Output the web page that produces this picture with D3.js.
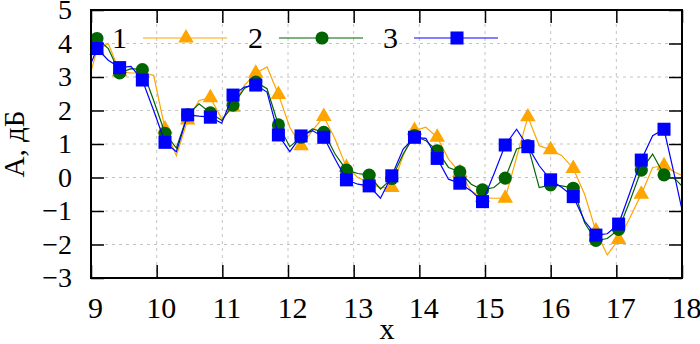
<!DOCTYPE html>
<html><head><meta charset="utf-8">
<script src="https://cdn.jsdelivr.net/npm/d3@7"></script>
<style>
body{margin:0;background:#fff}
svg{display:block}
</style>
</head><body><svg id="c" width="700" height="344"></svg>
<script>
const xValues = [8.918, 9.091, 9.263, 9.436, 9.609, 9.782, 9.954, 10.127, 10.300, 10.472,
  10.645, 10.818, 10.990, 11.163, 11.336, 11.509, 11.681, 11.854, 12.027, 12.199,
  12.372, 12.545, 12.717, 12.890, 13.063, 13.236, 13.408, 13.581, 13.754, 13.926,
  14.099, 14.272, 14.444, 14.617, 14.790, 14.962, 15.135, 15.308, 15.481, 15.653,
  15.826, 15.999, 16.171, 16.344, 16.517, 16.689, 16.862, 17.035, 17.207, 17.380,
  17.553, 17.726, 17.898, 18.071];
const series1 = [2.6, 3.8, 4.0, 3.16, 3.12, 3.12, 3.05, 1.45, 0.65, 1.72,
  2.3, 2.38, 1.75, 2.1, 2.75, 3.11, 3.3, 2.48, 1.5, 0.95,
  1.4, 1.82, 1.15, 0.3, 0.0, -0.15, -0.3, -0.3, 0.65, 1.4,
  1.5, 1.2, 0.55, 0.15, -0.4, -0.6, -0.62, -0.62, 0.6, 1.81,
  0.95, 0.83, 0.65, 0.27, -0.5, -1.6, -2.31, -1.85, -1.2, -0.5,
  0.3, 0.35, 0.15, 0.0];
const series2 = [3.68, 4.15, 3.85, 3.12, 3.25, 3.22, 2.3, 1.32, 0.88, 1.87,
  2.2, 1.93, 1.7, 2.16, 2.66, 2.85, 2.65, 1.57, 0.92, 1.2,
  1.45, 1.35, 0.7, 0.22, 0.12, 0.07, -0.35, -0.03, 0.7, 1.25,
  1.1, 0.8, 0.3, 0.17, -0.2, -0.37, -0.3, -0.02, 0.85, 0.95,
  -0.3, -0.22, -0.25, -0.32, -1.35, -1.88, -1.82, -1.55, -0.7, 0.22,
  0.7, 0.08, -0.05, -0.4];
const series3 = [3.0, 3.85, 3.5, 3.28, 3.32, 2.91, 2.0, 1.05, 0.77, 1.87,
  1.83, 1.8, 1.62, 2.46, 2.7, 2.76, 2.55, 1.27, 0.77, 1.24,
  1.4, 1.2, 0.55, -0.07, -0.2, -0.25, -0.62, 0.05, 0.85, 1.2,
  1.17, 0.57, -0.05, -0.17, -0.4, -0.72, 0.1, 0.97, 1.44, 0.92,
  0.35, -0.07, -0.3, -0.57, -1.3, -1.72, -1.68, -1.39, -0.45, 0.52,
  1.25, 1.44, -0.05, -1.6];
const seriesNames = ["1", "2", "3"];
const xTicks = [9, 10, 11, 12, 13, 14, 15, 16, 17, 18];
const yTicks = [-3, -2, -1, 0, 1, 2, 3, 4, 5];
const xLabel = "x";
const yLabel = "А, дБ";

const FONT = "'Liberation Serif', 'Times New Roman', Times, 'DejaVu Serif', serif";
const svg = d3.select("#c");
const L = 91, R = 682, T = 10, B = 278;
const x = d3.scaleLinear().domain([9, 18]).range([L, R]);
const y = d3.scaleLinear().domain([-3, 5]).range([B, T]);
const fmt = d => d < 0 ? "\u2212" + Math.abs(d) : String(d);
const FS = 30;

svg.append("rect").attr("width", 700).attr("height", 344).attr("fill", "#fff");

// grid
const grid = svg.append("g").attr("stroke", "#c4c4c4").attr("stroke-width", 1).attr("stroke-dasharray", "3,4");
grid.selectAll(".gx").data(xTicks.slice(1, -1)).join("line")
  .attr("x1", d => x(d)).attr("x2", d => x(d)).attr("y1", T).attr("y2", B);
grid.selectAll(".gy").data(yTicks.slice(1, -1)).join("line")
  .attr("y1", d => y(d)).attr("y2", d => y(d)).attr("x1", L).attr("x2", R);

// axes
function styleAxis(fs) {
  return g => {
    g.attr("font-family", null).attr("font-size", null);
    g.select(".domain").remove();
    g.selectAll(".tick line").attr("stroke", "#000").attr("stroke-width", 1.5);
    g.selectAll("text").style("font-family", FONT).style("font-size", fs + "px").attr("fill", "#000");
  };
}
svg.append("g").attr("transform", `translate(0,${B})`)
  .call(d3.axisBottom(x).tickValues(xTicks).tickSize(-13).tickPadding(19).tickFormat(fmt)).call(styleAxis(FS))
  .selectAll(".tick text").attr("dx", 4);
svg.append("g").attr("transform", `translate(0,${T})`)
  .call(d3.axisTop(x).tickValues(xTicks).tickSize(-13).tickFormat("")).call(styleAxis(FS));
svg.append("g").attr("transform", `translate(${L},0)`)
  .call(d3.axisLeft(y).tickValues(yTicks).tickSize(-13).tickPadding(19).tickFormat(fmt)).call(styleAxis(28));
svg.append("g").attr("transform", `translate(${R},0)`)
  .call(d3.axisRight(y).tickValues(yTicks).tickSize(-13).tickFormat("")).call(styleAxis(FS));

// clip
svg.append("clipPath").attr("id", "clip").append("rect")
  .attr("x", L).attr("y", T).attr("width", R - L).attr("height", B - T);

const defs = [
  {name: seriesNames[0], vals: series1, color: "#ffa500", sym: d3.symbolTriangle, size: 105},
  {name: seriesNames[1], vals: series2, color: "#006400", sym: d3.symbolCircle, size: 135},
  {name: seriesNames[2], vals: series3, color: "#0000ff", sym: d3.symbolSquare, size: 170}
];
const line = d3.line().x(d => x(d[0])).y(d => y(d[1]));

defs.forEach(s => {
  const pts = xValues.map((xv, i) => [xv, s.vals[i]]);
  svg.append("path").attr("clip-path", "url(#clip)")
    .attr("d", line(pts)).attr("fill", "none").attr("stroke", s.color).attr("stroke-width", 1.2);
  svg.append("g").selectAll("path").data(pts.filter((d, i) => i % 2 === 1 && d[0] >= 9 && d[0] <= 18)).join("path")
    .attr("transform", d => `translate(${x(d[0])},${y(d[1])})`)
    .attr("d", d3.symbol().type(s.sym).size(s.size)).attr("fill", s.color);
});

// legend
const legX = [127, 263, 398];
defs.forEach((s, i) => {
  const tx = legX[i];
  svg.append("text").attr("x", tx).attr("y", 48).attr("text-anchor", "end")
    .style("font-family", FONT).style("font-size", FS + "px").text(s.name);
  svg.append("line").attr("x1", tx + 16).attr("x2", tx + 100).attr("y1", 38).attr("y2", 38)
    .attr("stroke", s.color).attr("stroke-width", 1.2);
  svg.append("path").attr("transform", `translate(${tx + 59},38)`)
    .attr("d", d3.symbol().type(s.sym).size(s.size)).attr("fill", s.color);
});

// frame
svg.append("rect").attr("x", L).attr("y", T).attr("width", R - L).attr("height", B - T)
  .attr("fill", "none").attr("stroke", "#000").attr("stroke-width", 2);

// axis labels
svg.append("text").attr("x", 387).attr("y", 339).attr("text-anchor", "middle")
  .style("font-family", FONT).style("font-size", FS + "px").text(xLabel);
svg.append("text").attr("transform", "translate(24,144) rotate(-90)").attr("text-anchor", "middle")
  .style("font-family", FONT).style("font-size", "29px").text(yLabel);
</script>
</body></html>
